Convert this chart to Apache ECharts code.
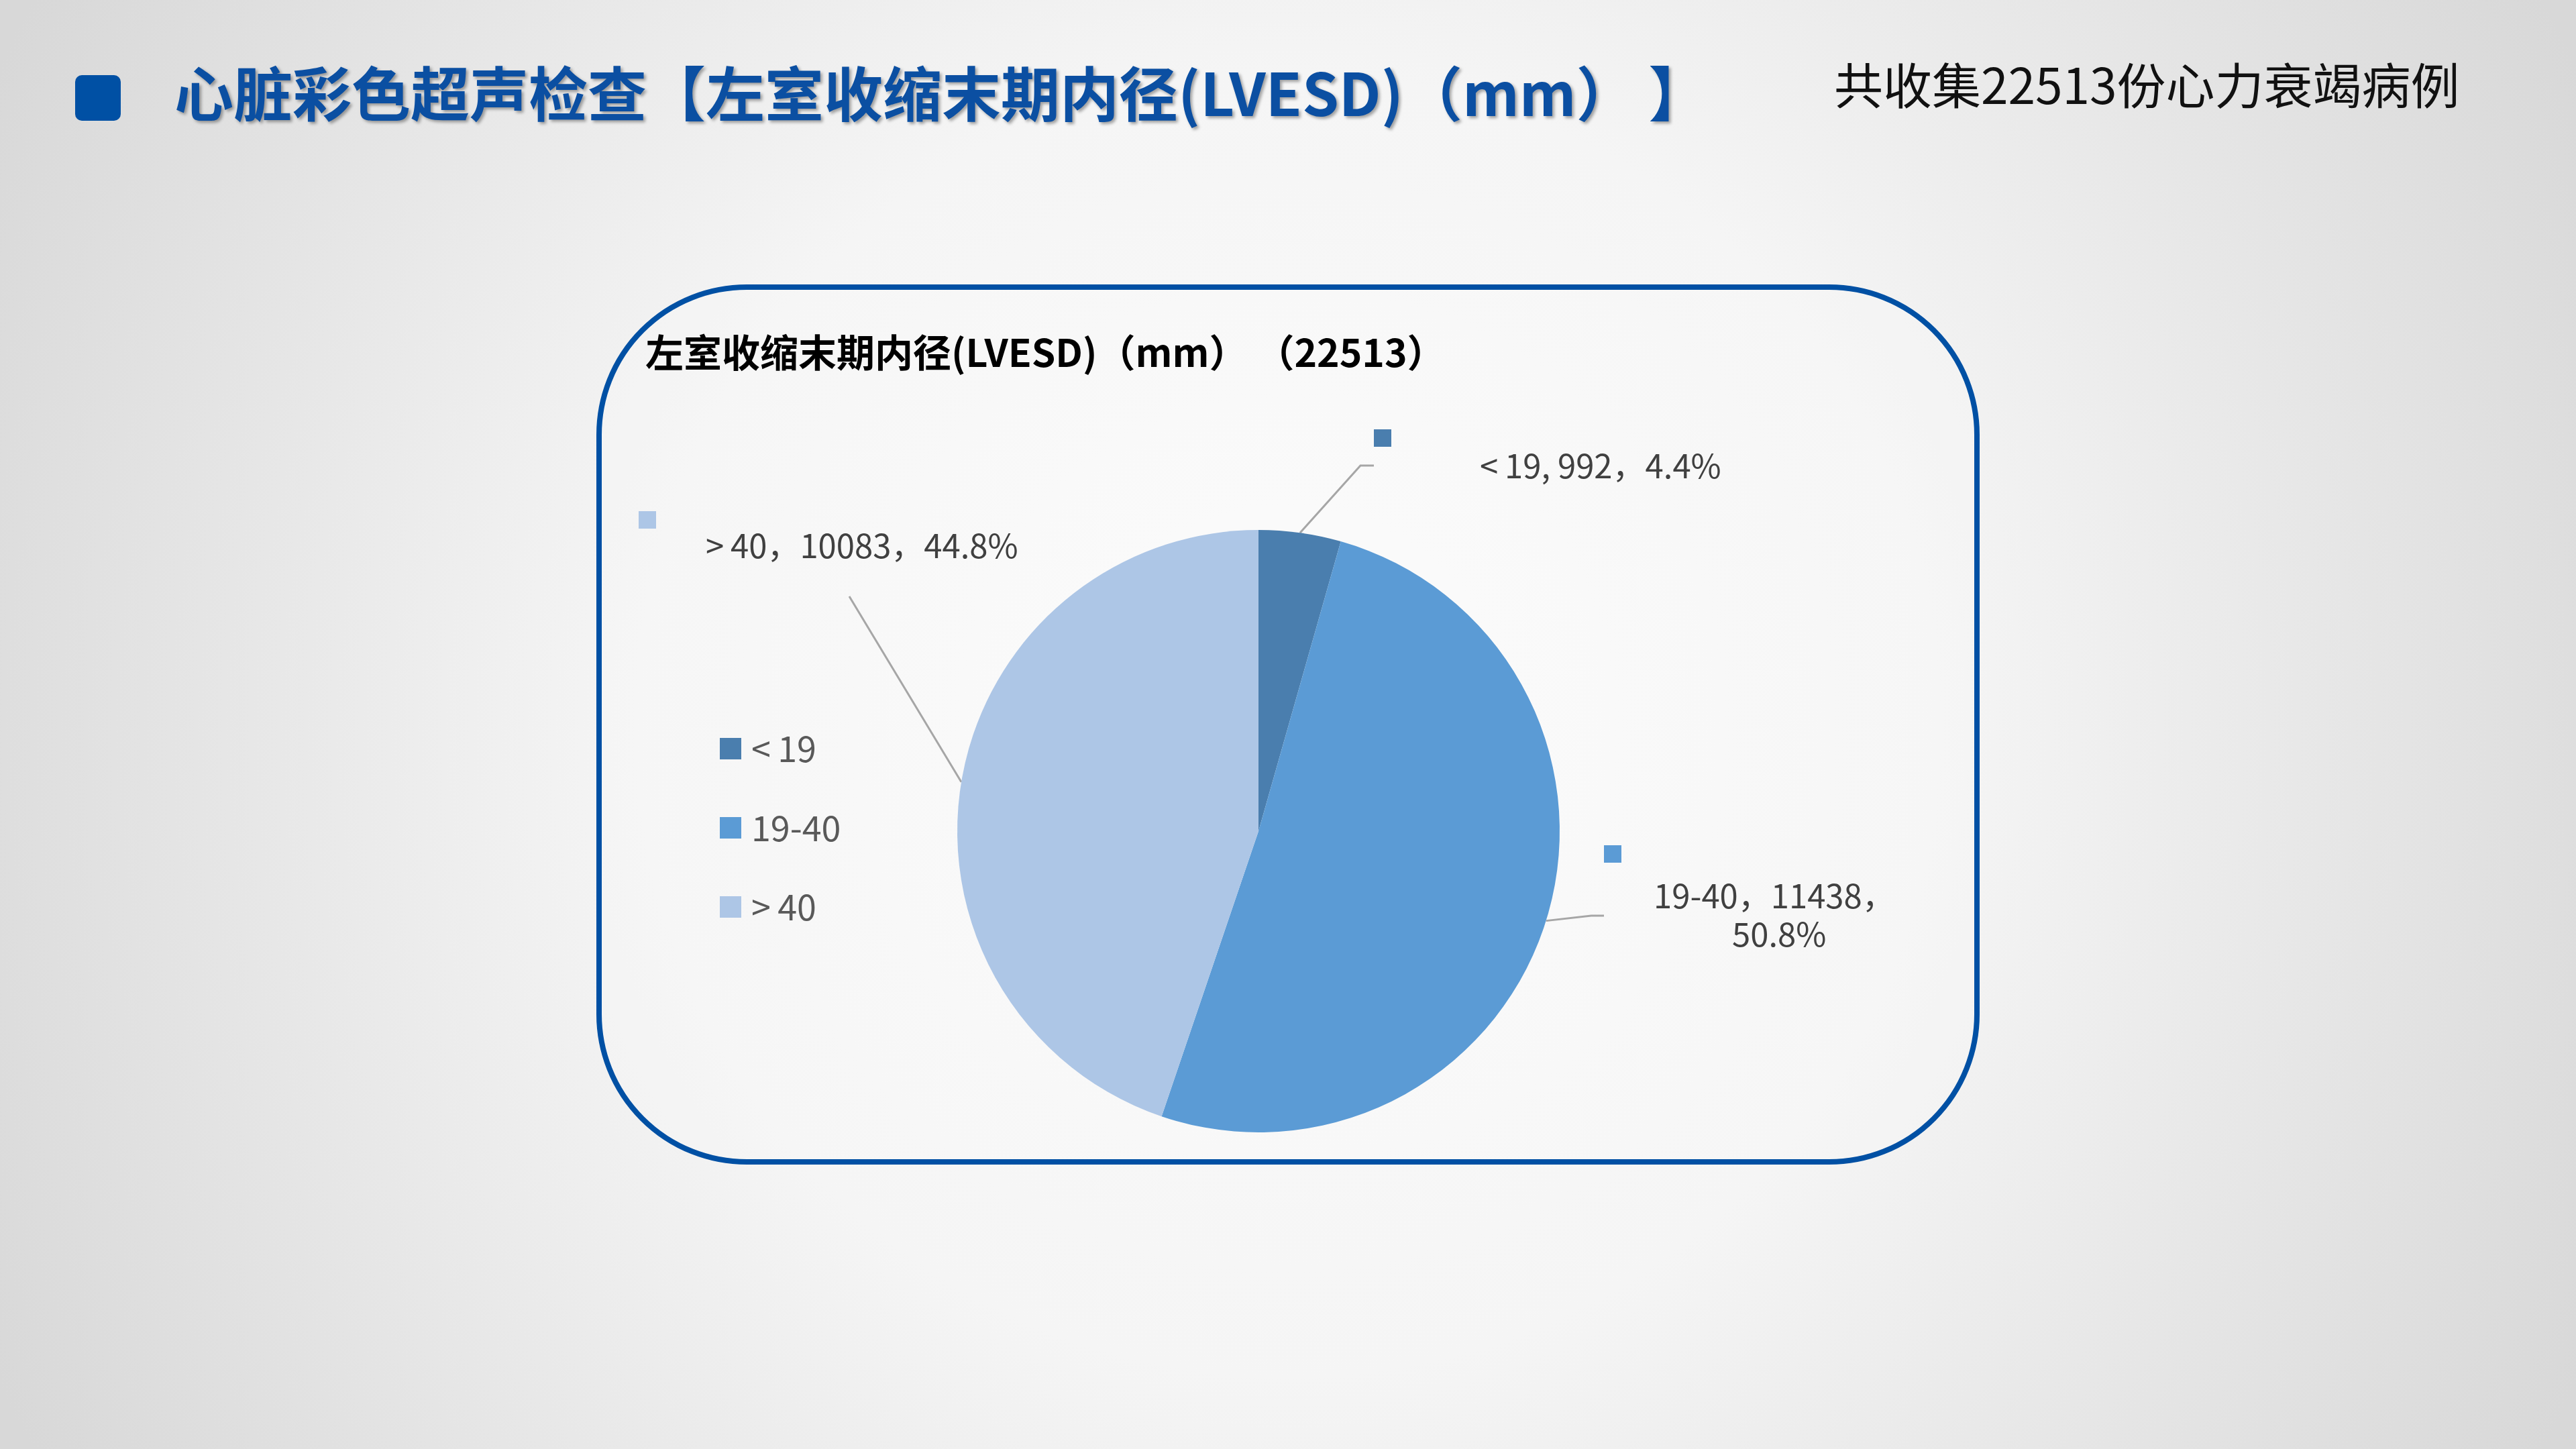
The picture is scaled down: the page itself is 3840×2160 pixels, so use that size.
<!DOCTYPE html>
<html><head><meta charset="utf-8">
<script src="https://cdn.jsdelivr.net/npm/echarts@6/dist/echarts.min.js"></script>
<style>html,body{margin:0;padding:0;width:3840px;height:2160px;overflow:hidden}#c{width:3840px;height:2160px}</style>
</head><body><div id="c"></div><script>
// ---- data ----
const categories = ['<\u200919', '19-40', '>\u200940'];
const counts = [992, 11438, 10083];
const totalCases = 22513;
const nameSeparators = [', ', '，', '，'];
const pageTitle = '心脏彩色超声检查【左室收缩末期内径(LVESD)（mm） 】';
const pageSubtitle = '共收集' + totalCases + '份心力衰竭病例';
const chartTitle = '左室收缩末期内径(LVESD)（mm） （' + totalCases + '）';
const colors = ['#4A7EAE', '#5B9BD5', '#ADC6E6'];

// ---- layout (label placement, as in the reference) ----
const labelBoxes = [[2048, 640], [2391, 1260], [952, 762]];
const labelLineBends = [[[2028, 694], [2048, 694]], [[2372, 1365], [2391, 1365]], [[1266, 889], [1266, 889]]];

const FONT = '"Noto Sans CJK SC", "Noto Sans", sans-serif';
const pct = v => (v / counts.reduce((a, b) => a + b, 0) * 100).toFixed(1) + '%';

function labelFor(i) {
  const sq = { width: 26, height: 26, lineHeight: 26, backgroundColor: colors[i] };
  const base = { fontSize: 49, color: '#404040', fontFamily: FONT };
  if (i === 1) {
    return {
      formatter: '{sq|}\n{a|' + categories[i] + nameSeparators[i] + counts[i] + '，}\n{b|' + pct(counts[i]) + '}',
      rich: {
        sq: sq,
        a: Object.assign({}, base, { lineHeight: 78, padding: [20, 0, 0, 74] }),
        b: Object.assign({}, base, { lineHeight: 56, padding: [0, 0, 0, 191] })
      }
    };
  }
  const pad = i === 0 ? 158 : 100;
  const lh = i === 0 ? 56 : 50;
  return {
    formatter: '{sq|}\n{t|' + categories[i] + nameSeparators[i] + counts[i] + '，' + pct(counts[i]) + '}',
    rich: { sq: sq, t: Object.assign({}, base, { lineHeight: lh, padding: [0, 0, 0, pad] }) }
  };
}

const chart = echarts.init(document.getElementById('c'), null, { renderer: 'canvas' });
chart.setOption({
  animation: false,
  backgroundColor: {
    type: 'radial', x: 0.5, y: 0.5, r: 1.0,
    colorStops: [
      { offset: 0, color: '#FBFBFB' },
      { offset: 0.45, color: '#F5F5F5' },
      { offset: 1, color: '#D8D8D8' }
    ]
  },
  title: [
    {
      text: pageTitle, left: 260, top: 88, padding: 0,
      textStyle: {
        fontFamily: FONT, fontSize: 88, fontWeight: 'bold', color: '#0B4FA2', lineHeight: 104,
        textShadowColor: 'rgba(0,0,0,0.35)', textShadowBlur: 4, textShadowOffsetX: 3, textShadowOffsetY: 3
      }
    },
    {
      text: pageSubtitle, left: 2734, top: 84, padding: 0,
      textStyle: { fontFamily: FONT, fontSize: 73, fontWeight: 'normal', color: '#111111', lineHeight: 86 }
    },
    {
      text: chartTitle, left: 962, top: 492, padding: 0,
      textStyle: { fontFamily: FONT, fontSize: 57, fontWeight: 'bold', color: '#000000', lineHeight: 66 }
    }
  ],
  graphic: [
    { type: 'rect', shape: { x: 112, y: 112, width: 68, height: 68, r: 10 }, style: { fill: '#0050A4' }, silent: true },
    { type: 'rect', shape: { x: 893, y: 428, width: 2054, height: 1304, r: 220 },
      style: { fill: 'rgba(255,255,255,0.15)', stroke: '#0050A4', lineWidth: 8 }, silent: true, z: -1 }
  ],
  legend: {
    orient: 'vertical', left: 1073, top: 1090, itemWidth: 32, itemHeight: 32, itemGap: 66, padding: 0,
    icon: 'rect', data: categories,
    textStyle: { fontFamily: FONT, fontSize: 52, color: '#595959', lineHeight: 52, padding: [0, 0, 0, 10] }
  },
  series: [{
    type: 'pie',
    center: [1876, 1239],
    radius: 449,
    startAngle: 90,
    clockwise: true,
    avoidLabelOverlap: false,
    silent: true,
    itemStyle: { borderWidth: 0 },
    label: { show: true, position: 'outside', fontFamily: FONT },
    labelLine: { show: true, length: 20, length2: 20, lineStyle: { color: '#A6A6A6', width: 3 } },
    labelLayout: function (params) {
      const i = params.dataIndex;
      const p0 = params.labelLinePoints ? params.labelLinePoints[0] : [0, 0];
      return {
        x: labelBoxes[i][0], y: labelBoxes[i][1], align: 'left', verticalAlign: 'top',
        labelLinePoints: [p0, labelLineBends[i][0], labelLineBends[i][1]]
      };
    },
    data: categories.map((c, i) => ({
      name: c, value: counts[i],
      itemStyle: { color: colors[i] },
      label: labelFor(i)
    }))
  }]
});
</script></body></html>
